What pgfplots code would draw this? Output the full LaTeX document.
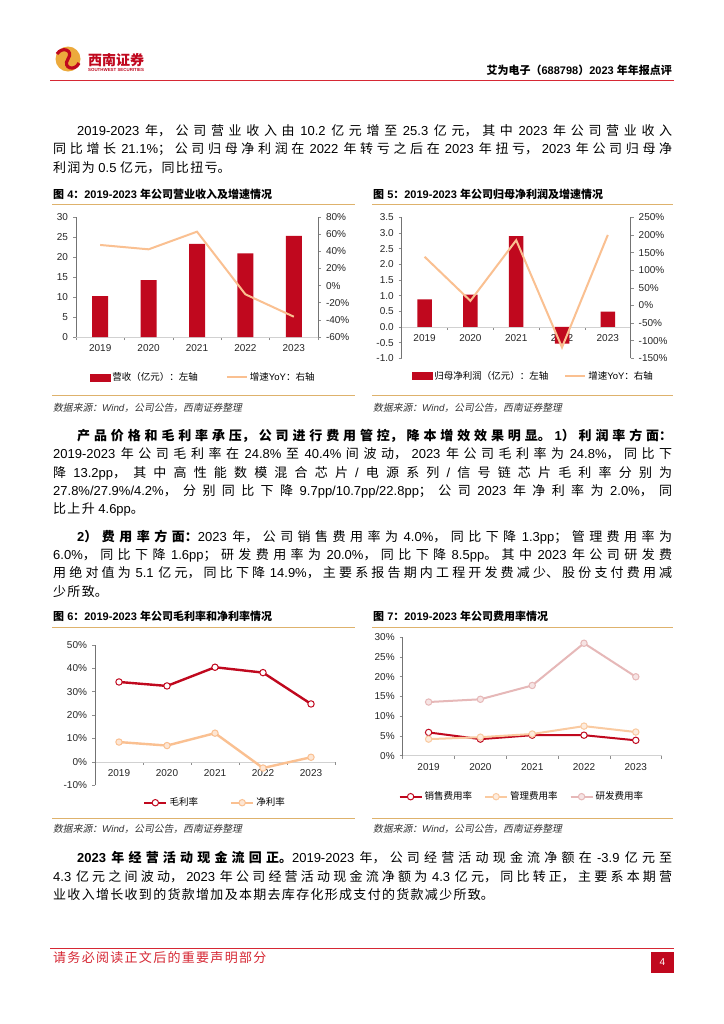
\documentclass[border=0pt]{standalone}
\usepackage{fontspec}
\usepackage{pgfplots}
\pgfplotsset{compat=1.18}
\setmainfont{Liberation Sans}
\newfontfamily\cjkfont{Noto Sans CJK SC}[AutoFakeSlant=0.2]

% Chinese characters and full-width punctuation go to the CJK face,
% with a glue between characters so that justified lines can spread
\newskip\cjkglue
\cjkglue=0pt
\newXeTeXintercharclass\cjkclass
\newXeTeXintercharclass\cjkpunct
\newcount\cjkc
\def\cjkrange#1#2{\cjkc=#1\relax
  \loop\XeTeXcharclass\cjkc=\cjkclass
  \ifnum\cjkc<#2\relax\advance\cjkc by 1 \repeat}
\cjkrange{"3000}{"303F}
\cjkrange{"4E00}{"9FFF}
\cjkrange{"FF00}{"FFEF}
% closing punctuation: no glue before it
\XeTeXcharclass"FF0C=\cjkpunct
\XeTeXcharclass"3002=\cjkpunct
\XeTeXcharclass"FF1B=\cjkpunct
\XeTeXcharclass"FF1A=\cjkpunct
\XeTeXcharclass"3001=\cjkpunct
\XeTeXcharclass"FF09=\cjkpunct
\XeTeXinterchartoks 0 \cjkclass = {\hskip\cjkglue\cjkfont}
\XeTeXinterchartoks 4095 \cjkclass = {\cjkfont}
\XeTeXinterchartoks \cjkclass 0 = {\rmfamily\hskip\cjkglue}
\XeTeXinterchartoks \cjkclass 4095 = {\rmfamily}
\XeTeXinterchartoks \cjkclass \cjkclass = {\hskip\cjkglue}
\XeTeXinterchartoks 0 \cjkpunct = {\cjkfont}
\XeTeXinterchartoks 4095 \cjkpunct = {\cjkfont}
\XeTeXinterchartoks \cjkpunct 0 = {\rmfamily\hskip\cjkglue}
\XeTeXinterchartoks \cjkpunct 4095 = {\rmfamily}
\XeTeXinterchartoks \cjkpunct \cjkclass = {\hskip\cjkglue}
\XeTeXinterchartokenstate=1

\definecolor{barred}{RGB}{192,8,30}
\definecolor{headred}{RGB}{214,40,52}
\definecolor{gold}{RGB}{222,178,108}
\definecolor{logogold}{RGB}{236,170,60}
\definecolor{peach}{RGB}{250,192,145}
\definecolor{peachfill}{RGB}{253,230,212}
\definecolor{admin}{RGB}{250,202,160}
\definecolor{adminfill}{RGB}{253,236,222}
\definecolor{rnd}{RGB}{230,184,184}
\definecolor{rndfill}{RGB}{246,228,228}

\def\bodyskip{\cjkglue=1.3bp plus 3bp\relax}
\tikzset{
  body/.style={anchor=base west, inner sep=0pt, font=\fontsize{13bp}{15bp}\selectfont},
  ftitle/.style={anchor=base west, inner sep=0pt, font=\fontsize{11bp}{13bp}\selectfont\bfseries},
  fsource/.style={anchor=base west, inner sep=0pt, text=black!80,
    font=\fontsize{9.8bp}{11bp}\selectfont\itshape},
}
\newcommand\jline[3]{\node[body] at (#1) {\bodyskip\hbox to #2bp{#3}};}
\newcommand\pline[2]{\node[body] at (#1) {\bodyskip #2};}

\pgfplotsset{
  pagechart/.style={
    scale only axis, clip=false,
    xmin=-0.5, xmax=4.5,
    xtick={-0.5,0.5,1.5,2.5,3.5,4.5}, xticklabels={,,,,,},
    extra x ticks={0,1,2,3,4},
    extra x tick labels={2019,2020,2021,2022,2023},
    extra x tick style={major tick length=0pt, tick label style={yshift=-4bp}},
    tick align=outside, major tick length=3bp,
    tick style={draw=black!45, line width=0.6bp},
    axis line style={draw=black!55, line width=0.7bp},
    x axis line style={draw=black!18, line width=0.8bp},
    tick label style={font=\fontsize{10bp}{12bp}\selectfont, text=black!85},
    yticklabel style={xshift=-1.5bp},
    /pgf/number format/assume math mode=true,
    hide obscured x ticks=false, hide obscured y ticks=false,
  },
  rightchart/.style={pagechart, axis x line=none, axis y line*=right,
    yticklabel style={xshift=3bp}},
  pct/.style={yticklabel={\pgfmathprintnumber{\tick}\%}},
  pagelegend/.style={legend style={draw=none, fill=none,
    font=\fontsize{9.5bp}{11bp}\selectfont, anchor=center,
    /tikz/every even column/.append style={column sep=#1}}},
}

\begin{document}
\begin{tikzpicture}
\begin{scope}[x=1bp,y=-1bp]
\fill[white] (0,0) rectangle (724,1024);

% header
\fill[logogold] (68,59) circle (12.5);
\draw[barred, line width=3.2bp] (57,54) .. controls (62,46) and (74,50) .. (68,59)
  .. controls (62,68) and (75,72) .. (79,63);
\node[anchor=west, inner sep=0pt, text=barred, font=\fontsize{14bp}{16bp}\selectfont\bfseries] at (88,60) {西南证券};
\node[anchor=west, inner sep=0pt, text=barred, font=\fontsize{4.4bp}{5bp}\selectfont\bfseries] at (88,69.5) {SOUTHWEST SECURITIES};
\node[anchor=base east, inner sep=0pt, font=\fontsize{11bp}{13bp}\selectfont\bfseries] at (672,74) {艾为电子（688798）2023 年年报点评};
\draw[headred, line width=1.2bp] (50,80.5) -- (674,80.5);

% paragraph 1
\jline{77,135.2}{595}{2019-2023 年，公司营业收入由 10.2 亿元增至 25.3 亿元，其中 2023 年公司营业收入}
\jline{53,153.7}{619}{同比增长 21.1\%；公司归母净利润在 2022 年转亏之后在 2023 年扭亏，2023 年公司归母净}
\pline{53,172.2}{利润为 0.5 亿元，同比扭亏。}

% figure 4 / 5 frames
\node[ftitle] at (53,198) {图 4：2019-2023 年公司营业收入及增速情况};
\node[ftitle] at (373,198) {图 5：2019-2023 年公司归母净利润及增速情况};
\draw[gold, line width=1.1bp] (52,204.3) -- (355,204.3) (372,204.3) -- (673,204.3);
\draw[gold, line width=1.1bp] (52,395.7) -- (355,395.7) (372,395.7) -- (673,395.7);
\node[fsource] at (53,411) {数据来源：Wind，公司公告，西南证券整理};
\node[fsource] at (373,411) {数据来源：Wind，公司公告，西南证券整理};

% paragraph 2
\jline{77,440.5}{595}{\bfseries 产品价格和毛利率承压，公司进行费用管控，降本增效效果明显。1）利润率方面：}
\jline{53,458.8}{619}{2019-2023 年公司毛利率在 24.8\%至 40.4\%间波动，2023 年公司毛利率为 24.8\%，同比下}
\jline{53,477.2}{619}{降 13.2pp，其中高性能数模混合芯片/电源系列/信号链芯片毛利率分别为}
\jline{53,495.5}{619}{27.8\%/27.9\%/4.2\%，分别同比下降 9.7pp/10.7pp/22.8pp；公司 2023 年净利率为 2.0\%，同}
\pline{53,513.9}{比上升 4.6pp。}

% paragraph 3
\jline{77,541.2}{595}{{\bfseries 2）费用率方面：}2023 年，公司销售费用率为 4.0\%，同比下降 1.3pp；管理费用率为}
\jline{53,559.5}{619}{6.0\%，同比下降 1.6pp；研发费用率为 20.0\%，同比下降 8.5pp。其中 2023 年公司研发费}
\jline{53,577.8}{619}{用绝对值为 5.1 亿元，同比下降 14.9\%，主要系报告期内工程开发费减少、股份支付费用减}
\pline{53,596.1}{少所致。}

% figure 6 / 7 frames
\node[ftitle] at (53,620.7) {图 6：2019-2023 年公司毛利率和净利率情况};
\node[ftitle] at (373,620.7) {图 7：2019-2023 年公司费用率情况};
\draw[gold, line width=1.1bp] (52,627.3) -- (355,627.3) (372,627.3) -- (673,627.3);
\draw[gold, line width=1.1bp] (52,818.3) -- (355,818.3) (372,818.3) -- (673,818.3);
\node[fsource] at (53,832.6) {数据来源：Wind，公司公告，西南证券整理};
\node[fsource] at (373,832.6) {数据来源：Wind，公司公告，西南证券整理};

% paragraph 4
\jline{77,862.8}{595}{{\bfseries 2023 年经营活动现金流回正。}2019-2023 年，公司经营活动现金流净额在 -3.9 亿元至}
\jline{53,881.1}{619}{4.3 亿元之间波动，2023 年公司经营活动现金流净额为 4.3 亿元，同比转正，主要系本期营}
\pline{53,899.5}{业收入增长收到的货款增加及本期去库存化形成支付的货款减少所致。}

% footer
\draw[headred, line width=1bp] (50,948.3) -- (674,948.3);
\node[body, text=headred] at (53,962.5) {\bodyskip 请务必阅读正文后的重要声明部分};
\fill[barred] (651,951.5) rectangle (674,973.3);
\node[text=white, font=\fontsize{10bp}{12bp}\selectfont] at (662.5,962.4) {4};
\end{scope}

% ---- figure 4: revenue (left) and growth (right)
\begin{axis}[pagechart, at={(76bp,-337bp)}, anchor=south west, width=242bp, height=120bp,
  ymin=0, ymax=30, ytick={0,5,...,30}, axis y line*=left, axis x line*=bottom,
  ybar, bar width=16bp]
\addplot[fill=barred, draw=none] coordinates {(0,10.2) (1,14.2) (2,23.3) (3,20.9) (4,25.3)};
\end{axis}
\begin{axis}[rightchart, pct, at={(76bp,-337bp)}, anchor=south west, width=242bp, height=120bp,
  ymin=-60, ymax=80, ytick={-60,-40,...,80},
  pagelegend=26bp, legend columns=2, legend style={at={(0.526,-0.336)}}]
\addlegendimage{legend image code/.code={\fill[barred] (0bp,-3.5bp) rectangle (20bp,3.5bp);}}
\addlegendentry{营收（亿元）：左轴}
\addplot[peach, line width=2bp, mark=none,
  legend image code/.code={\draw[peach, line width=2bp] (0bp,0bp) -- (20bp,0bp);}]
  coordinates {(0,47.4) (1,42.3) (2,62.9) (3,-10.2) (4,-36.3)};
\addlegendentry{增速YoY：右轴}
\end{axis}

% ---- figure 5: net profit (left) and growth (right)
\begin{axis}[pagechart, at={(401.7bp,-358.3bp)}, anchor=south west, width=229bp, height=141bp,
  ymin=-1, ymax=3.5, ytick={-1,-0.5,0,0.5,1,1.5,2,2.5,3,3.5},
  yticklabel style={/pgf/number format/.cd, fixed, fixed zerofill, precision=1},
  axis y line*=left, axis x line*=middle, ybar, bar width=14.5bp]
\addplot[fill=barred, draw=none] coordinates {(0,0.88) (1,1.03) (2,2.90) (3,-0.53) (4,0.49)};
\end{axis}
\begin{axis}[rightchart, pct, at={(401.7bp,-358.3bp)}, anchor=south west, width=229bp, height=141bp,
  ymin=-150, ymax=250, ytick={-150,-100,...,250},
  pagelegend=14bp, legend columns=2, legend style={at={(0.575,-0.1255)}}]
\addlegendimage{legend image code/.code={\fill[barred] (0bp,-3.5bp) rectangle (20bp,3.5bp);}}
\addlegendentry{归母净利润（亿元）：左轴}
\addplot[peach, line width=2bp, mark=none,
  legend image code/.code={\draw[peach, line width=2bp] (0bp,0bp) -- (20bp,0bp);}]
  coordinates {(0,138) (1,13) (2,185) (3,-119) (4,200)};
\addlegendentry{增速YoY：右轴}
\end{axis}

% ---- figure 6: gross and net margin
\begin{axis}[pagechart, pct, at={(95bp,-785.3bp)}, anchor=south west, width=240bp, height=140.3bp,
  ymin=-10, ymax=50, ytick={-10,0,...,50}, axis y line*=left, axis x line*=middle,
  pagelegend=30bp, legend columns=2, legend style={at={(0.5,-0.124)}},
  every axis plot/.append style={mark=*, mark size=3.2bp,
    legend image code/.code={\draw[mark repeat=2, mark phase=2] plot coordinates {(0bp,0bp) (11bp,0bp) (22bp,0bp)};}}]
\addplot[barred, line width=2.4bp, mark options={fill=white, draw=barred, line width=1bp}]
  coordinates {(0,34.2) (1,32.5) (2,40.5) (3,38.2) (4,24.8)};
\addlegendentry{毛利率}
\addplot[peach, line width=2.4bp, mark options={fill=peachfill, draw=peach, line width=1bp}]
  coordinates {(0,8.5) (1,7.0) (2,12.3) (3,-2.6) (4,2.0)};
\addlegendentry{净利率}
\end{axis}

% ---- figure 7: expense ratios
\begin{axis}[pagechart, pct, at={(402.7bp,-755.7bp)}, anchor=south west, width=259bp, height=118.4bp,
  ymin=0, ymax=30, ytick={0,5,...,30}, axis y line*=left, axis x line*=bottom,
  pagelegend=10bp, legend columns=3, legend style={at={(0.46,-0.346)}},
  every axis plot/.append style={mark=*, mark size=3.2bp,
    legend image code/.code={\draw[mark repeat=2, mark phase=2] plot coordinates {(0bp,0bp) (11bp,0bp) (22bp,0bp)};}}]
\addplot[barred, line width=2bp, mark options={fill=white, draw=barred, line width=1bp}]
  coordinates {(0,5.9) (1,4.2) (2,5.2) (3,5.2) (4,3.9)};
\addlegendentry{销售费用率}
\addplot[admin, line width=2bp, mark options={fill=adminfill, draw=admin, line width=1bp}]
  coordinates {(0,4.2) (1,4.7) (2,5.5) (3,7.5) (4,6.0)};
\addlegendentry{管理费用率}
\addplot[rnd, line width=2bp, mark options={fill=rndfill, draw=rnd, line width=1bp}]
  coordinates {(0,13.6) (1,14.3) (2,17.8) (3,28.5) (4,20.0)};
\addlegendentry{研发费用率}
\end{axis}
\end{tikzpicture}
\end{document}
